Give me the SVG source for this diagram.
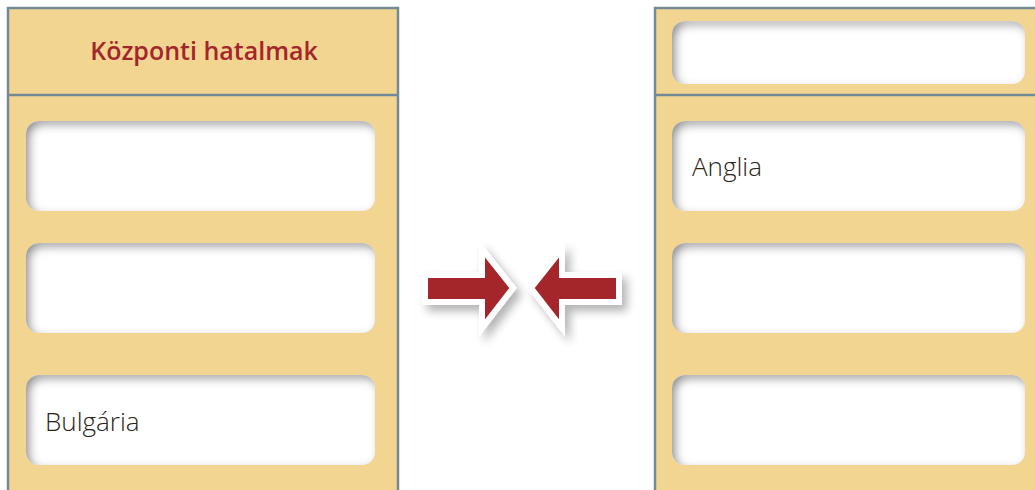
<svg xmlns="http://www.w3.org/2000/svg" width="1035" height="490" viewBox="0 0 1035 490">
<style>
.panel{fill:#f3d592;stroke:#738a96;stroke-width:2.5}
.sep{stroke:#738a96;stroke-width:2.5}
.box{fill:#ffffff;filter:url(#inner)}
.lbl{font-family:"Open Sans","Liberation Sans",sans-serif;font-weight:300;font-size:26px;fill:#2a2418}
.head{font-family:"Open Sans","Liberation Sans",sans-serif;font-weight:600;font-size:25px;fill:#a4262c}
.arrow{fill:#a4262c;stroke:#ffffff;stroke-width:6;stroke-linejoin:miter;filter:url(#drop)}
</style>
<defs>
<filter id="inner" x="-10%" y="-10%" width="120%" height="120%">
<feFlood flood-color="#8c8c8c" result="c"/>
<feComposite in="c" in2="SourceAlpha" operator="out" result="inv"/>
<feOffset in="inv" dx="4" dy="4" result="off"/>
<feGaussianBlur in="off" stdDeviation="5" result="blur"/>
<feComposite in="blur" in2="SourceAlpha" operator="in" result="sh"/>
<feMerge><feMergeNode in="SourceGraphic"/><feMergeNode in="sh"/></feMerge>
</filter>
<filter id="drop" x="-30%" y="-30%" width="160%" height="160%">
<feGaussianBlur in="SourceAlpha" stdDeviation="5"/>
<feOffset dx="5" dy="6" result="o"/>
<feComponentTransfer><feFuncA type="linear" slope="0.3"/></feComponentTransfer>
<feMerge><feMergeNode/><feMergeNode in="SourceGraphic"/></feMerge>
</filter>
</defs>
<g id="left-panel">
<rect class="panel" x="8" y="8" width="390" height="500"/>
<line class="sep" x1="8" y1="95" x2="398" y2="95"/>
<text class="head" x="204" y="60" text-anchor="middle">Központi hatalmak</text>
</g>
<g id="left-box-1"><rect class="box" x="26" y="121" width="349" height="90" rx="13"/></g>
<g id="left-box-2"><rect class="box" x="26" y="243" width="349" height="90" rx="13"/></g>
<g id="left-box-3"><rect class="box" x="26" y="375" width="349" height="90" rx="13"/>
<text class="lbl" x="45" y="431">Bulgária</text></g>
<g id="right-panel">
<rect class="panel" x="655" y="8" width="400" height="500"/>
<line class="sep" x1="655" y1="95" x2="1035" y2="95"/>
</g>
<g id="right-box-0"><rect class="box" x="672" y="21" width="353" height="63" rx="13"/></g>
<g id="right-box-1"><rect class="box" x="672" y="121" width="353" height="90" rx="13"/>
<text class="lbl" x="692" y="176">Anglia</text></g>
<g id="right-box-2"><rect class="box" x="672" y="243" width="353" height="90" rx="13"/></g>
<g id="right-box-3"><rect class="box" x="672" y="375" width="353" height="90" rx="13"/></g>
<g id="connectors">
<path class="arrow" d="M425,275 L482,275 L482,249 L513,288 L482,328 L482,302 L425,302 Z"/>
<path class="arrow" d="M619,275 L562,275 L562,249 L531,288 L562,328 L562,302 L619,302 Z"/>
</g>
</svg>
